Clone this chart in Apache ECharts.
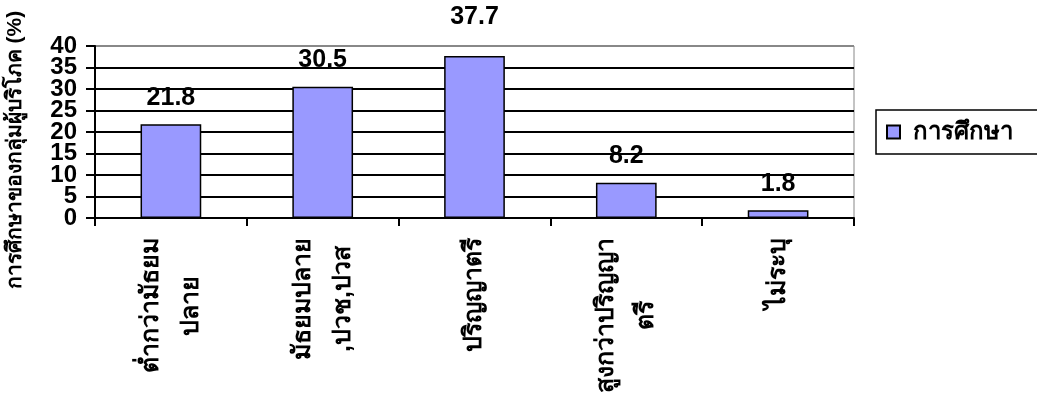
<!DOCTYPE html>
<html>
<head>
<meta charset="utf-8">
<script src="https://cdn.jsdelivr.net/npm/echarts@6/dist/echarts.min.js"></script>
<style>
  html, body { margin: 0; padding: 0; background: #fff; }
  #chart { width: 1037px; height: 405px; }
</style>
</head>
<body>
<div id="chart"></div>
<script>
// education level of the consumer group (%)
var categories = ['ต่ำกว่ามัธยม\nปลาย', 'มัธยมปลาย\n,ปวช,ปวส', 'ปริญญาตรี', 'สูงกว่าปริญญา\nตรี', 'ไม่ระบุ'];
var values = [21.8, 30.5, 37.7, 8.2, 1.8];
var yTicks = [0, 5, 10, 15, 20, 25, 30, 35, 40];
var seriesName = 'การศึกษา';
var yTitle = 'การศึกษาของกลุ่มผู้บริโภค (%)';

var font = '"Liberation Sans", Arial, "DejaVu Sans", sans-serif';

// each line of a category label is centred inside its block
function catLabel(v) {
  return v.split('\n').map(function (s) { return '{c|' + s + '}'; }).join('\n');
}

// the tick labels sit closer than their font height, so they are split
// over two overlaid axes (even / odd ticks) to stop echarts hiding some
function yAxisFor(part, main) {
  return {
    type: 'value',
    min: 0, max: 40, interval: 5,
    position: 'left', offset: 0,
    axisLine: { show: main, lineStyle: { color: '#000', width: 2 } },
    axisTick: { show: main, length: 9, lineStyle: { color: '#000', width: 2 } },
    axisLabel: {
      margin: 18, showMinLabel: true, showMaxLabel: true,
      color: '#000', fontFamily: font, fontWeight: 'bold', fontSize: 24,
      formatter: function (v) {
        var i = yTicks.indexOf(v);
        return i >= 0 && i % 2 === part ? String(v) : '';
      }
    },
    splitLine: {
      show: main,
      lineStyle: { color: ['#000', '#000', '#000', '#000', '#000', '#000', '#000', '#000', '#888'], width: 2 }
    }
  };
}

var chart = echarts.init(document.getElementById('chart'));
chart.setOption({
  animation: false,
  backgroundColor: '#fff',
  grid: {
    left: 95, right: 183, top: 46, bottom: 187,
    show: true, borderColor: '#888', borderWidth: 1, backgroundColor: 'transparent'
  },
  legend: {
    left: 876, top: 110,
    orient: 'vertical',
    data: [seriesName],
    icon: 'rect', itemWidth: 13, itemHeight: 13, itemGap: 0,
    borderColor: '#000', borderWidth: 1.5,
    padding: [10, 30, 10, 10],
    textStyle: { fontFamily: font, fontWeight: 'bold', fontSize: 24, color: '#000', padding: [0, 0, 0, 8] }
  },
  graphic: [{
    type: 'text',
    x: 15, y: 150,
    rotation: Math.PI / 2,
    style: {
      text: yTitle,
      font: 'bold 21px ' + font,
      fill: '#000',
      align: 'center', verticalAlign: 'middle'
    }
  }],
  xAxis: {
    type: 'category',
    data: categories,
    axisLine: { lineStyle: { color: '#000', width: 2 } },
    axisTick: { show: true, length: 8, lineStyle: { color: '#000', width: 2 } },
    axisLabel: {
      rotate: 90, margin: 20, interval: 0,
      formatter: catLabel,
      rich: {
        c: { align: 'center', fontFamily: font, fontWeight: 'bold', fontSize: 25, color: '#000', lineHeight: 40 }
      }
    }
  },
  yAxis: [yAxisFor(0, true), yAxisFor(1, false)],
  series: [{
    name: seriesName,
    type: 'bar',
    yAxisIndex: 0,
    barWidth: '40%',
    data: values.map(function (v, i) {
      var d = { value: v };
      if (i === 2) d.label = { distance: 26 };
      return d;
    }),
    itemStyle: { color: '#9999FF', borderColor: '#000', borderWidth: 1.5 },
    label: {
      show: true, position: 'top', distance: 14,
      color: '#000', fontFamily: font, fontWeight: 'bold', fontSize: 25
    }
  }]
});
</script>
</body>
</html>
